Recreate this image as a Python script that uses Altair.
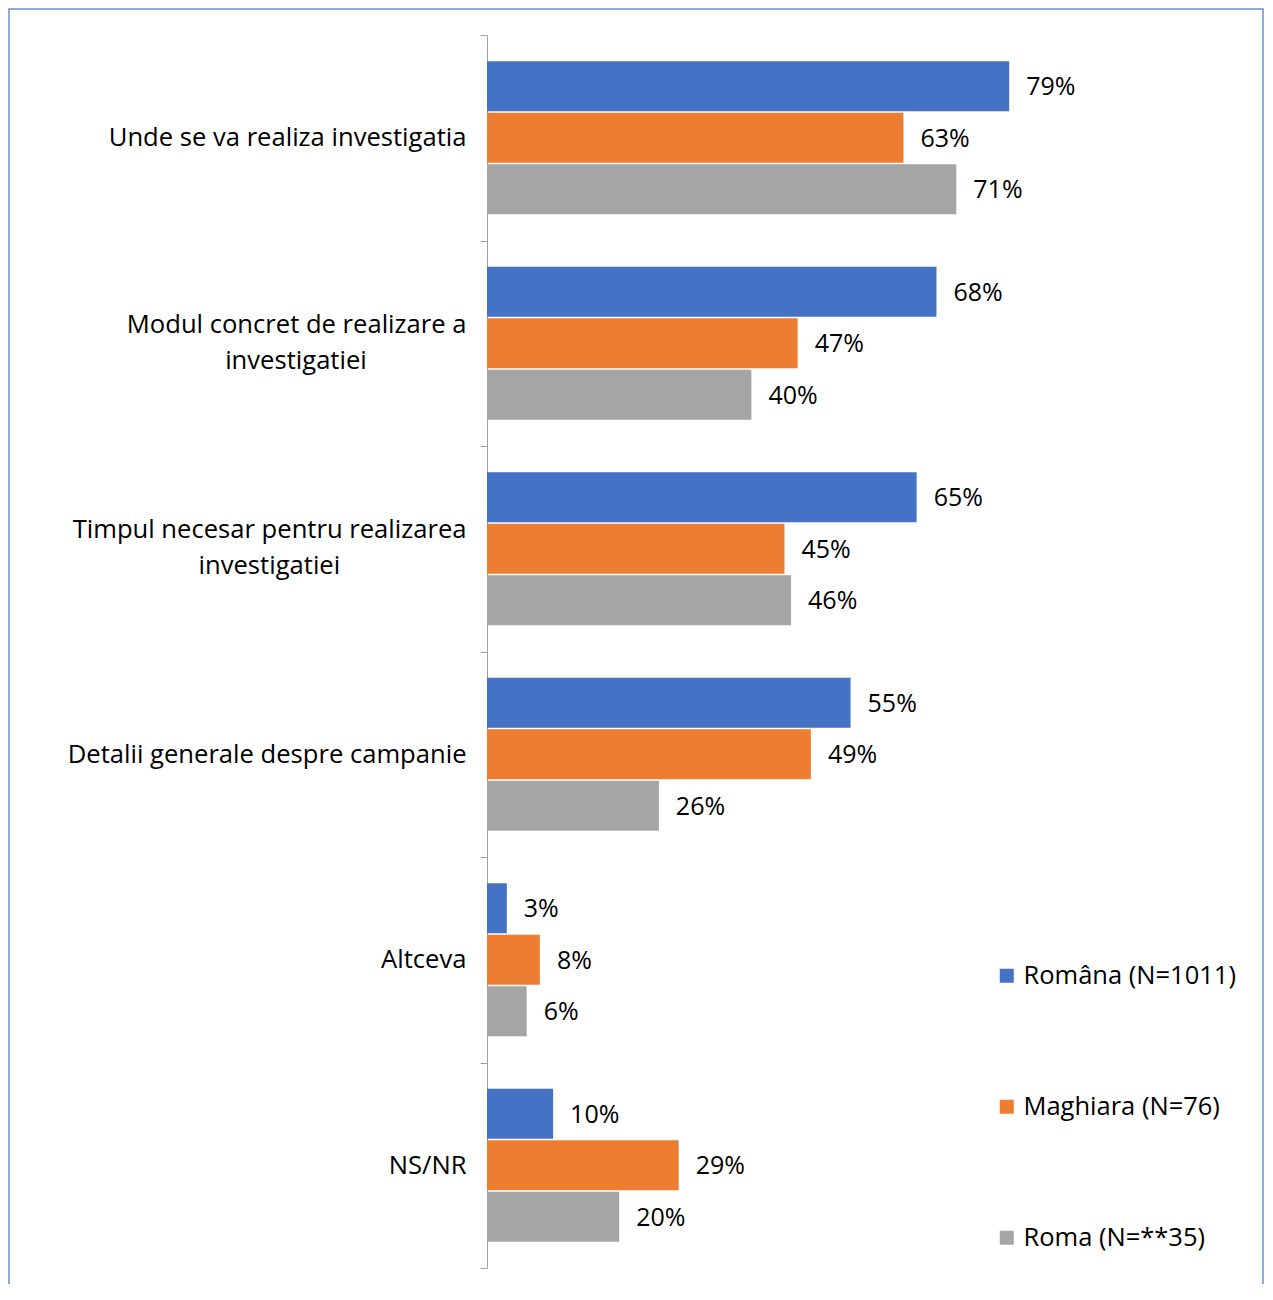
import altair as alt
import pandas as pd

categories = [
    "Unde se va realiza investigatia",
    "Modul concret de realizare a investigatiei",
    "Timpul necesar pentru realizarea investigatiei",
    "Detalii generale despre campanie",
    "Altceva",
    "NS/NR",
]
series = ["Rom\u00e2na (N=1011)", "Maghiara (N=76)", "Roma (N=**35)"]
romana = [79, 68, 65, 55, 3, 10]
maghiara = [63, 47, 45, 49, 8, 29]
roma = [71, 40, 46, 26, 6, 20]
colors = ["#4472C4", "#ED7D31", "#A5A5A5"]

rows = []
for i, c in enumerate(categories):
    for s, vals in zip(series, [romana, maghiara, roma]):
        rows.append({"cat": c, "series": s, "v": vals[i]})
df = pd.DataFrame(rows)

NB = "\u00a0"
WJ = "\u2060"
FONT = "Open Sans"
FS = 25

wrapped = {
    categories[1]: ["Modul concret de realizare a", "investigatiei" + NB * 15 + WJ],
    categories[2]: ["Timpul necesar pentru realizarea", "investigatiei" + NB * 19 + WJ],
}
obj = ", ".join(
    "'%s': ['%s', '%s']" % (k, v[0], v[1]) for k, v in wrapped.items()
)
label_expr = "({" + obj + "})[datum.label] || datum.label"
wrap_test = " || ".join("datum.value == '%s'" % k for k in wrapped)

y_enc = alt.Y(
    "cat:N",
    sort=categories,
    scale=alt.Scale(paddingInner=0, paddingOuter=0),
    axis=alt.Axis(
        title=None,
        tickBand="extent",
        tickSize=7,
        tickColor="#a0a0a0",
        domainColor="#a0a0a0",
        labelFont=FONT,
        labelFontSize=25.6,
        labelColor="#000000",
        labelPadding=14,
        labelLimit=0,
        labelLineHeight=36,
        labelBaseline={"condition": {"test": wrap_test, "value": "line-bottom"}, "value": "middle"},
        labelExpr=label_expr,
    ),
)
yoff_enc = alt.YOffset("series:N", sort=series, scale=alt.Scale(paddingInner=0.03, paddingOuter=0.51))
x_enc = alt.X("v:Q", scale=alt.Scale(domain=[0, 100]), axis=None)

base = alt.Chart(df).encode(y=y_enc, yOffset=yoff_enc, x=x_enc)

bars = base.mark_bar().encode(
    color=alt.Color(
        "series:N",
        sort=series,
        scale=alt.Scale(domain=series, range=colors),
        legend=alt.Legend(
            title=None,
            orient="none",
            legendX=507,
            legendY=928,
            direction="vertical",
            rowPadding=104,
            symbolType="square",
            symbolSize=196,
            symbolStrokeWidth=0,
            labelFont=FONT,
            labelFontSize=25.5,
            labelColor="#000000",
            labelOffset=4,
            labelLimit=0,
            padding=0,
        ),
    )
)

texts = base.transform_calculate(lab="datum.v + '%'").mark_text(
    align="left", baseline="middle", dx=17, dy=1, font=FONT, fontSize=FS, color="#000000"
).encode(text="lab:N")

frame = alt.Chart(pd.DataFrame({"f": [0]})).mark_rect(
    filled=False, stroke="#6d8fd1", strokeWidth=1.5
).encode(
    x=alt.value(-478), x2=alt.value(776), y=alt.value(-26), y2=alt.value(1300)
)

chart = alt.layer(frame, bars, texts).properties(
    width=661,
    height=1233,
    autosize="none",
    padding={"left": 479, "top": 27, "right": 117, "bottom": 16},
).configure_view(stroke=None)

chart.save("out.html", embed_options={"renderer": "svg", "actions": False})
